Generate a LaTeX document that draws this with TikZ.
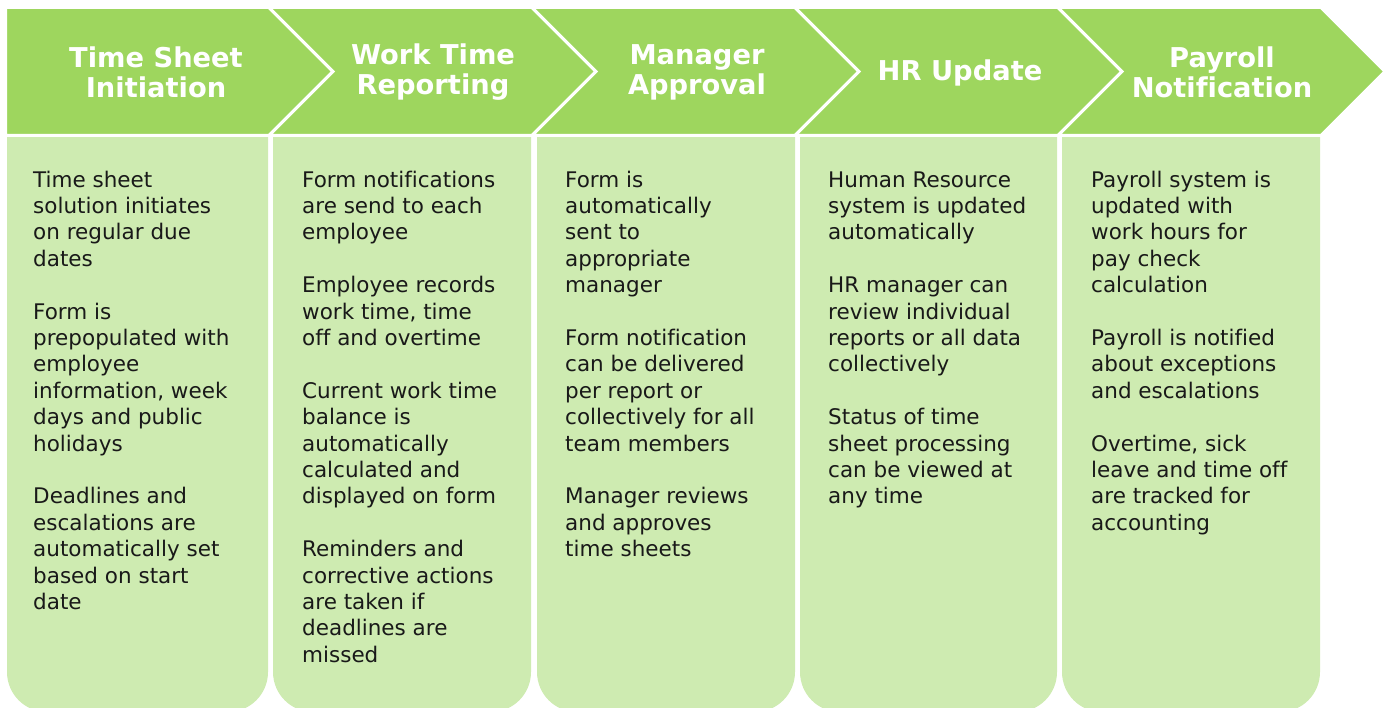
\documentclass[tikz,border=0pt]{standalone}
\usepackage{fontspec}
\setmainfont[Ligatures={NoCommon}]{DejaVu Sans}
\definecolor{chevgreen}{RGB}{158,214,94}
\definecolor{cardgreen}{RGB}{206,235,177}
\definecolor{inktext}{RGB}{25,25,25}
\begin{document}
\begin{tikzpicture}[x=1pt, y=-1pt,
    chevron/.style = {fill=chevgreen, draw=white, line width=3pt},
    card/.style = {fill=cardgreen, rounded corners=40pt},
    head/.style = {text=white, font=\fontsize{27.3}{30}\selectfont\bfseries, align=center, inner sep=0pt},
    body/.style = {text=inktext, font=\fontsize{21.5}{26.4}\selectfont, align=left, inner sep=0pt, anchor=north west}]
    \useasboundingbox (0,0) rectangle (1384,708);
    % cards below the arrows
    \begin{scope}
        \clip (0,137) rectangle (1384,720);
        \fill[card] (7,90) rectangle (268,712);
        \fill[card] (273,90) rectangle (531,712);
        \fill[card] (537,90) rectangle (795,712);
        \fill[card] (800,90) rectangle (1057,712);
        \fill[card] (1062,90) rectangle (1320,712);
    \end{scope}
    % process arrows
    \draw[chevron] (5.5,7.5) -- (269,7.5) -- (333,71.5) -- (269,135.5) -- (5.5,135.5) -- cycle;
    \draw[chevron] (269,7.5) -- (532,7.5) -- (596,71.5) -- (532,135.5) -- (269,135.5) -- (333,71.5) -- cycle;
    \draw[chevron] (532,7.5) -- (795,7.5) -- (859,71.5) -- (795,135.5) -- (532,135.5) -- (596,71.5) -- cycle;
    \draw[chevron] (795,7.5) -- (1058,7.5) -- (1122,71.5) -- (1058,135.5) -- (795,135.5) -- (859,71.5) -- cycle;
    \draw[chevron] (1058,7.5) -- (1321,7.5) -- (1385,71.5) -- (1321,135.5) -- (1058,135.5) -- (1122,71.5) -- cycle;
    \node[head] (t1) at (156,72) {Time Sheet\\Initiation};
    \node[head] (t2) at (433,72) {Work Time\\Reporting};
    \node[head] (t3) at (697,72) {Manager\\Approval};
    \node[head] (t4) at (960,73) {HR Update};
    \node[head] (t5) at (1222,72) {Payroll\\Notification};
    % card texts
    \node[body] (b1) at (33,168.5) {\strut Time sheet\\solution initiates\\on regular due\\dates\\[26.4pt]
        Form is\\prepopulated with\\employee\\information, week\\days and public\\holidays\\[26.4pt]
        Deadlines and\\escalations are\\automatically set\\based on start\\date};
    \node[body] (b2) at (302,168.5) {\strut Form notifications\\are send to each\\employee\\[26.4pt]
        Employee records\\work time, time\\off and overtime\\[26.4pt]
        Current work time\\balance is\\automatically\\calculated and\\displayed on form\\[26.4pt]
        Reminders and\\corrective actions\\are taken if\\deadlines are\\missed};
    \node[body] (b3) at (565,168.5) {\strut Form is\\automatically\\sent to\\appropriate\\manager\\[26.4pt]
        Form notification\\can be delivered\\per report or\\collectively for all\\team members\\[26.4pt]
        Manager reviews\\and approves\\time sheets};
    \node[body] (b4) at (828,168.5) {\strut Human Resource\\system is updated\\automatically\\[26.4pt]
        HR manager can\\review individual\\reports or all data\\collectively\\[26.4pt]
        Status of time\\sheet processing\\can be viewed at\\any time};
    \node[body] (b5) at (1091,168.5) {\strut Payroll system is\\updated with\\work hours for\\pay check\\calculation\\[26.4pt]
        Payroll is notified\\about exceptions\\and escalations\\[26.4pt]
        Overtime, sick\\leave and time off\\are tracked for\\accounting};
\end{tikzpicture}
\end{document}
